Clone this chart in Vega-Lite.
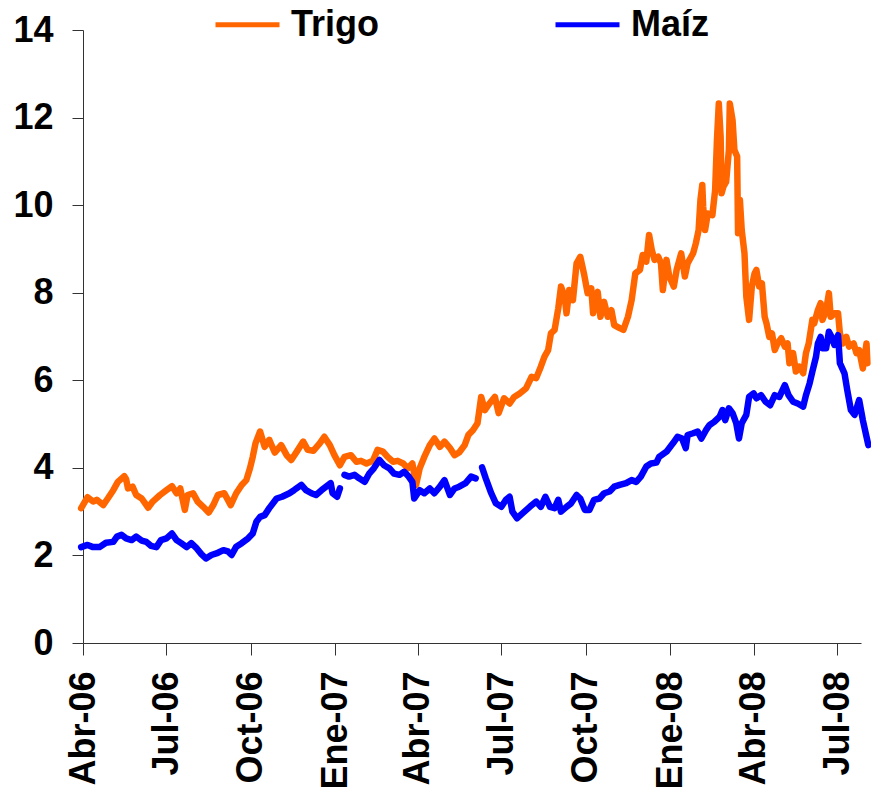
{
"$schema": "https://vega.github.io/schema/vega-lite/v6.json",
"width": 778, "height": 613,
"autosize": "none",
"padding": {"left": 83, "top": 30, "right": 10, "bottom": 153},
"background": "white",
"config": {"view": {"stroke": null}},
"data": {"values": [
{"fecha":"2006-03-30","serie":"Trigo","valor":3.08},
{"fecha":"2006-04-06","serie":"Trigo","valor":3.33},
{"fecha":"2006-04-12","serie":"Trigo","valor":3.23},
{"fecha":"2006-04-16","serie":"Trigo","valor":3.27},
{"fecha":"2006-04-23","serie":"Trigo","valor":3.15},
{"fecha":"2006-04-28","serie":"Trigo","valor":3.30},
{"fecha":"2006-05-04","serie":"Trigo","valor":3.49},
{"fecha":"2006-05-09","serie":"Trigo","valor":3.68},
{"fecha":"2006-05-16","serie":"Trigo","valor":3.81},
{"fecha":"2006-05-18","serie":"Trigo","valor":3.74},
{"fecha":"2006-05-20","serie":"Trigo","valor":3.53},
{"fecha":"2006-05-25","serie":"Trigo","valor":3.57},
{"fecha":"2006-05-29","serie":"Trigo","valor":3.38},
{"fecha":"2006-06-04","serie":"Trigo","valor":3.30},
{"fecha":"2006-06-11","serie":"Trigo","valor":3.09},
{"fecha":"2006-06-16","serie":"Trigo","valor":3.23},
{"fecha":"2006-06-24","serie":"Trigo","valor":3.38},
{"fecha":"2006-07-01","serie":"Trigo","valor":3.49},
{"fecha":"2006-07-07","serie":"Trigo","valor":3.58},
{"fecha":"2006-07-12","serie":"Trigo","valor":3.42},
{"fecha":"2006-07-16","serie":"Trigo","valor":3.53},
{"fecha":"2006-07-21","serie":"Trigo","valor":3.04},
{"fecha":"2006-07-24","serie":"Trigo","valor":3.38},
{"fecha":"2006-07-30","serie":"Trigo","valor":3.42},
{"fecha":"2006-08-04","serie":"Trigo","valor":3.23},
{"fecha":"2006-08-10","serie":"Trigo","valor":3.11},
{"fecha":"2006-08-16","serie":"Trigo","valor":2.98},
{"fecha":"2006-08-21","serie":"Trigo","valor":3.15},
{"fecha":"2006-08-26","serie":"Trigo","valor":3.38},
{"fecha":"2006-09-02","serie":"Trigo","valor":3.42},
{"fecha":"2006-09-09","serie":"Trigo","valor":3.15},
{"fecha":"2006-09-15","serie":"Trigo","valor":3.42},
{"fecha":"2006-09-21","serie":"Trigo","valor":3.61},
{"fecha":"2006-09-26","serie":"Trigo","valor":3.72},
{"fecha":"2006-09-30","serie":"Trigo","valor":3.99},
{"fecha":"2006-10-03","serie":"Trigo","valor":4.25},
{"fecha":"2006-10-06","serie":"Trigo","valor":4.56},
{"fecha":"2006-10-11","serie":"Trigo","valor":4.83},
{"fecha":"2006-10-16","serie":"Trigo","valor":4.48},
{"fecha":"2006-10-21","serie":"Trigo","valor":4.64},
{"fecha":"2006-10-27","serie":"Trigo","valor":4.35},
{"fecha":"2006-11-03","serie":"Trigo","valor":4.52},
{"fecha":"2006-11-09","serie":"Trigo","valor":4.29},
{"fecha":"2006-11-14","serie":"Trigo","valor":4.18},
{"fecha":"2006-11-20","serie":"Trigo","valor":4.37},
{"fecha":"2006-11-27","serie":"Trigo","valor":4.60},
{"fecha":"2006-12-02","serie":"Trigo","valor":4.41},
{"fecha":"2006-12-08","serie":"Trigo","valor":4.39},
{"fecha":"2006-12-15","serie":"Trigo","valor":4.56},
{"fecha":"2006-12-20","serie":"Trigo","valor":4.71},
{"fecha":"2006-12-26","serie":"Trigo","valor":4.52},
{"fecha":"2006-12-31","serie":"Trigo","valor":4.29},
{"fecha":"2007-01-06","serie":"Trigo","valor":4.06},
{"fecha":"2007-01-11","serie":"Trigo","valor":4.25},
{"fecha":"2007-01-18","serie":"Trigo","valor":4.29},
{"fecha":"2007-01-24","serie":"Trigo","valor":4.14},
{"fecha":"2007-01-29","serie":"Trigo","valor":4.16},
{"fecha":"2007-02-04","serie":"Trigo","valor":4.10},
{"fecha":"2007-02-11","serie":"Trigo","valor":4.16},
{"fecha":"2007-02-16","serie":"Trigo","valor":4.41},
{"fecha":"2007-02-22","serie":"Trigo","valor":4.37},
{"fecha":"2007-02-27","serie":"Trigo","valor":4.25},
{"fecha":"2007-03-05","serie":"Trigo","valor":4.14},
{"fecha":"2007-03-10","serie":"Trigo","valor":4.16},
{"fecha":"2007-03-16","serie":"Trigo","valor":4.10},
{"fecha":"2007-03-21","serie":"Trigo","valor":3.99},
{"fecha":"2007-03-26","serie":"Trigo","valor":4.10},
{"fecha":"2007-03-30","serie":"Trigo","valor":3.61},
{"fecha":"2007-04-03","serie":"Trigo","valor":3.99},
{"fecha":"2007-04-08","serie":"Trigo","valor":4.25},
{"fecha":"2007-04-14","serie":"Trigo","valor":4.52},
{"fecha":"2007-04-19","serie":"Trigo","valor":4.67},
{"fecha":"2007-04-25","serie":"Trigo","valor":4.48},
{"fecha":"2007-04-30","serie":"Trigo","valor":4.60},
{"fecha":"2007-05-06","serie":"Trigo","valor":4.45},
{"fecha":"2007-05-11","serie":"Trigo","valor":4.29},
{"fecha":"2007-05-16","serie":"Trigo","valor":4.35},
{"fecha":"2007-05-22","serie":"Trigo","valor":4.52},
{"fecha":"2007-05-26","serie":"Trigo","valor":4.75},
{"fecha":"2007-05-31","serie":"Trigo","valor":4.86},
{"fecha":"2007-06-05","serie":"Trigo","valor":5.02},
{"fecha":"2007-06-09","serie":"Trigo","valor":5.62},
{"fecha":"2007-06-13","serie":"Trigo","valor":5.32},
{"fecha":"2007-06-18","serie":"Trigo","valor":5.47},
{"fecha":"2007-06-24","serie":"Trigo","valor":5.62},
{"fecha":"2007-06-28","serie":"Trigo","valor":5.25},
{"fecha":"2007-07-04","serie":"Trigo","valor":5.59},
{"fecha":"2007-07-10","serie":"Trigo","valor":5.47},
{"fecha":"2007-07-15","serie":"Trigo","valor":5.62},
{"fecha":"2007-07-21","serie":"Trigo","valor":5.70},
{"fecha":"2007-07-28","serie":"Trigo","valor":5.82},
{"fecha":"2007-08-03","serie":"Trigo","valor":6.08},
{"fecha":"2007-08-08","serie":"Trigo","valor":6.05},
{"fecha":"2007-08-13","serie":"Trigo","valor":6.31},
{"fecha":"2007-08-17","serie":"Trigo","valor":6.54},
{"fecha":"2007-08-21","serie":"Trigo","valor":6.69},
{"fecha":"2007-08-24","serie":"Trigo","valor":7.07},
{"fecha":"2007-08-28","serie":"Trigo","valor":7.15},
{"fecha":"2007-09-01","serie":"Trigo","valor":7.64},
{"fecha":"2007-09-04","serie":"Trigo","valor":8.14},
{"fecha":"2007-09-08","serie":"Trigo","valor":7.91},
{"fecha":"2007-09-10","serie":"Trigo","valor":7.53},
{"fecha":"2007-09-13","serie":"Trigo","valor":8.06},
{"fecha":"2007-09-17","serie":"Trigo","valor":7.83},
{"fecha":"2007-09-21","serie":"Trigo","valor":8.67},
{"fecha":"2007-09-25","serie":"Trigo","valor":8.82},
{"fecha":"2007-09-29","serie":"Trigo","valor":8.44},
{"fecha":"2007-10-03","serie":"Trigo","valor":7.99},
{"fecha":"2007-10-07","serie":"Trigo","valor":8.10},
{"fecha":"2007-10-09","serie":"Trigo","valor":7.53},
{"fecha":"2007-10-14","serie":"Trigo","valor":8.02},
{"fecha":"2007-10-17","serie":"Trigo","valor":7.45},
{"fecha":"2007-10-21","serie":"Trigo","valor":7.79},
{"fecha":"2007-10-25","serie":"Trigo","valor":7.45},
{"fecha":"2007-10-29","serie":"Trigo","valor":7.60},
{"fecha":"2007-11-01","serie":"Trigo","valor":7.26},
{"fecha":"2007-11-07","serie":"Trigo","valor":7.19},
{"fecha":"2007-11-11","serie":"Trigo","valor":7.15},
{"fecha":"2007-11-16","serie":"Trigo","valor":7.45},
{"fecha":"2007-11-20","serie":"Trigo","valor":7.83},
{"fecha":"2007-11-24","serie":"Trigo","valor":8.44},
{"fecha":"2007-11-29","serie":"Trigo","valor":8.52},
{"fecha":"2007-12-02","serie":"Trigo","valor":8.86},
{"fecha":"2007-12-06","serie":"Trigo","valor":8.71},
{"fecha":"2007-12-09","serie":"Trigo","valor":9.32},
{"fecha":"2007-12-12","serie":"Trigo","valor":8.97},
{"fecha":"2007-12-15","serie":"Trigo","valor":8.75},
{"fecha":"2007-12-19","serie":"Trigo","valor":8.82},
{"fecha":"2007-12-22","serie":"Trigo","valor":8.67},
{"fecha":"2007-12-24","serie":"Trigo","valor":8.06},
{"fecha":"2007-12-28","serie":"Trigo","valor":8.75},
{"fecha":"2007-12-31","serie":"Trigo","valor":8.37},
{"fecha":"2008-01-05","serie":"Trigo","valor":8.14},
{"fecha":"2008-01-08","serie":"Trigo","valor":8.52},
{"fecha":"2008-01-13","serie":"Trigo","valor":8.90},
{"fecha":"2008-01-17","serie":"Trigo","valor":8.37},
{"fecha":"2008-01-20","serie":"Trigo","valor":8.67},
{"fecha":"2008-01-26","serie":"Trigo","valor":8.90},
{"fecha":"2008-01-29","serie":"Trigo","valor":9.13},
{"fecha":"2008-02-01","serie":"Trigo","valor":9.43},
{"fecha":"2008-02-03","serie":"Trigo","valor":10.12},
{"fecha":"2008-02-05","serie":"Trigo","valor":10.46},
{"fecha":"2008-02-06","serie":"Trigo","valor":9.96},
{"fecha":"2008-02-08","serie":"Trigo","valor":9.43},
{"fecha":"2008-02-11","serie":"Trigo","valor":9.81},
{"fecha":"2008-02-16","serie":"Trigo","valor":9.77},
{"fecha":"2008-02-19","serie":"Trigo","valor":10.34},
{"fecha":"2008-02-21","serie":"Trigo","valor":11.49},
{"fecha":"2008-02-23","serie":"Trigo","valor":12.32},
{"fecha":"2008-02-25","serie":"Trigo","valor":11.56},
{"fecha":"2008-02-26","serie":"Trigo","valor":10.27},
{"fecha":"2008-02-28","serie":"Trigo","valor":10.42},
{"fecha":"2008-03-02","serie":"Trigo","valor":10.53},
{"fecha":"2008-03-05","serie":"Trigo","valor":11.26},
{"fecha":"2008-03-06","serie":"Trigo","valor":12.32},
{"fecha":"2008-03-09","serie":"Trigo","valor":11.94},
{"fecha":"2008-03-11","serie":"Trigo","valor":11.26},
{"fecha":"2008-03-14","serie":"Trigo","valor":11.11},
{"fecha":"2008-03-15","serie":"Trigo","valor":9.36},
{"fecha":"2008-03-17","serie":"Trigo","valor":10.12},
{"fecha":"2008-03-19","serie":"Trigo","valor":9.43},
{"fecha":"2008-03-22","serie":"Trigo","valor":8.90},
{"fecha":"2008-03-24","serie":"Trigo","valor":7.91},
{"fecha":"2008-03-27","serie":"Trigo","valor":7.38},
{"fecha":"2008-03-30","serie":"Trigo","valor":8.14},
{"fecha":"2008-04-02","serie":"Trigo","valor":8.44},
{"fecha":"2008-04-04","serie":"Trigo","valor":8.52},
{"fecha":"2008-04-07","serie":"Trigo","valor":8.14},
{"fecha":"2008-04-10","serie":"Trigo","valor":8.21},
{"fecha":"2008-04-13","serie":"Trigo","valor":7.45},
{"fecha":"2008-04-15","serie":"Trigo","valor":7.30},
{"fecha":"2008-04-18","serie":"Trigo","valor":6.99},
{"fecha":"2008-04-21","serie":"Trigo","valor":7.07},
{"fecha":"2008-04-24","serie":"Trigo","valor":6.69},
{"fecha":"2008-04-27","serie":"Trigo","valor":6.84},
{"fecha":"2008-05-01","serie":"Trigo","valor":6.96},
{"fecha":"2008-05-05","serie":"Trigo","valor":6.77},
{"fecha":"2008-05-08","serie":"Trigo","valor":6.84},
{"fecha":"2008-05-10","serie":"Trigo","valor":6.39},
{"fecha":"2008-05-14","serie":"Trigo","valor":6.62},
{"fecha":"2008-05-17","serie":"Trigo","valor":6.20},
{"fecha":"2008-05-21","serie":"Trigo","valor":6.31},
{"fecha":"2008-05-25","serie":"Trigo","valor":6.16},
{"fecha":"2008-05-28","serie":"Trigo","valor":6.62},
{"fecha":"2008-05-31","serie":"Trigo","valor":6.84},
{"fecha":"2008-06-04","serie":"Trigo","valor":7.38},
{"fecha":"2008-06-06","serie":"Trigo","valor":7.30},
{"fecha":"2008-06-10","serie":"Trigo","valor":7.60},
{"fecha":"2008-06-13","serie":"Trigo","valor":7.76},
{"fecha":"2008-06-15","serie":"Trigo","valor":7.38},
{"fecha":"2008-06-19","serie":"Trigo","valor":7.60},
{"fecha":"2008-06-22","serie":"Trigo","valor":7.99},
{"fecha":"2008-06-24","serie":"Trigo","valor":7.45},
{"fecha":"2008-06-28","serie":"Trigo","valor":7.53},
{"fecha":"2008-07-02","serie":"Trigo","valor":7.53},
{"fecha":"2008-07-04","serie":"Trigo","valor":7.07},
{"fecha":"2008-07-07","serie":"Trigo","valor":6.84},
{"fecha":"2008-07-11","serie":"Trigo","valor":6.99},
{"fecha":"2008-07-14","serie":"Trigo","valor":6.77},
{"fecha":"2008-07-19","serie":"Trigo","valor":6.84},
{"fecha":"2008-07-22","serie":"Trigo","valor":6.62},
{"fecha":"2008-07-25","serie":"Trigo","valor":6.69},
{"fecha":"2008-07-29","serie":"Trigo","valor":6.27},
{"fecha":"2008-08-02","serie":"Trigo","valor":6.84},
{"fecha":"2008-08-03","serie":"Trigo","valor":6.39},
{"fecha":"2006-03-30","serie":"Maíz","valor":2.19},
{"fecha":"2006-04-06","serie":"Maíz","valor":2.24},
{"fecha":"2006-04-12","serie":"Maíz","valor":2.19},
{"fecha":"2006-04-19","serie":"Maíz","valor":2.19},
{"fecha":"2006-04-26","serie":"Maíz","valor":2.29},
{"fecha":"2006-05-04","serie":"Maíz","valor":2.31},
{"fecha":"2006-05-08","serie":"Maíz","valor":2.43},
{"fecha":"2006-05-13","serie":"Maíz","valor":2.47},
{"fecha":"2006-05-18","serie":"Maíz","valor":2.39},
{"fecha":"2006-05-24","serie":"Maíz","valor":2.35},
{"fecha":"2006-05-29","serie":"Maíz","valor":2.43},
{"fecha":"2006-06-04","serie":"Maíz","valor":2.34},
{"fecha":"2006-06-09","serie":"Maíz","valor":2.31},
{"fecha":"2006-06-14","serie":"Maíz","valor":2.22},
{"fecha":"2006-06-20","serie":"Maíz","valor":2.19},
{"fecha":"2006-06-25","serie":"Maíz","valor":2.35},
{"fecha":"2006-07-01","serie":"Maíz","valor":2.39},
{"fecha":"2006-07-07","serie":"Maíz","valor":2.50},
{"fecha":"2006-07-12","serie":"Maíz","valor":2.35},
{"fecha":"2006-07-17","serie":"Maíz","valor":2.28},
{"fecha":"2006-07-23","serie":"Maíz","valor":2.19},
{"fecha":"2006-07-28","serie":"Maíz","valor":2.28},
{"fecha":"2006-08-03","serie":"Maíz","valor":2.16},
{"fecha":"2006-08-08","serie":"Maíz","valor":2.03},
{"fecha":"2006-08-13","serie":"Maíz","valor":1.93},
{"fecha":"2006-08-19","serie":"Maíz","valor":2.01},
{"fecha":"2006-08-26","serie":"Maíz","valor":2.06},
{"fecha":"2006-09-01","serie":"Maíz","valor":2.12},
{"fecha":"2006-09-06","serie":"Maíz","valor":2.09},
{"fecha":"2006-09-10","serie":"Maíz","valor":2.01},
{"fecha":"2006-09-15","serie":"Maíz","valor":2.20},
{"fecha":"2006-09-21","serie":"Maíz","valor":2.28},
{"fecha":"2006-09-28","serie":"Maíz","valor":2.39},
{"fecha":"2006-10-03","serie":"Maíz","valor":2.50},
{"fecha":"2006-10-07","serie":"Maíz","valor":2.77},
{"fecha":"2006-10-11","serie":"Maíz","valor":2.88},
{"fecha":"2006-10-16","serie":"Maíz","valor":2.92},
{"fecha":"2006-10-21","serie":"Maíz","valor":3.08},
{"fecha":"2006-10-29","serie":"Maíz","valor":3.30},
{"fecha":"2006-11-04","serie":"Maíz","valor":3.34},
{"fecha":"2006-11-12","serie":"Maíz","valor":3.42},
{"fecha":"2006-11-17","serie":"Maíz","valor":3.49},
{"fecha":"2006-11-25","serie":"Maíz","valor":3.61},
{"fecha":"2006-11-30","serie":"Maíz","valor":3.49},
{"fecha":"2006-12-06","serie":"Maíz","valor":3.42},
{"fecha":"2006-12-11","serie":"Maíz","valor":3.38},
{"fecha":"2006-12-17","serie":"Maíz","valor":3.49},
{"fecha":"2006-12-22","serie":"Maíz","valor":3.57},
{"fecha":"2006-12-27","serie":"Maíz","valor":3.65},
{"fecha":"2006-12-29","serie":"Maíz","valor":3.42},
{"fecha":"2007-01-03","serie":"Maíz","valor":3.34},
{"fecha":"2007-01-06","serie":"Maíz","valor":3.53},
{"fecha":"2007-01-08","serie":"Maíz","valor":null},
{"fecha":"2007-01-11","serie":"Maíz","valor":3.84},
{"fecha":"2007-01-16","serie":"Maíz","valor":3.80},
{"fecha":"2007-01-22","serie":"Maíz","valor":3.84},
{"fecha":"2007-01-27","serie":"Maíz","valor":3.76},
{"fecha":"2007-02-02","serie":"Maíz","valor":3.68},
{"fecha":"2007-02-07","serie":"Maíz","valor":3.87},
{"fecha":"2007-02-12","serie":"Maíz","valor":3.99},
{"fecha":"2007-02-18","serie":"Maíz","valor":4.18},
{"fecha":"2007-02-23","serie":"Maíz","valor":4.06},
{"fecha":"2007-03-01","serie":"Maíz","valor":3.99},
{"fecha":"2007-03-06","serie":"Maíz","valor":3.87},
{"fecha":"2007-03-12","serie":"Maíz","valor":3.84},
{"fecha":"2007-03-17","serie":"Maíz","valor":3.91},
{"fecha":"2007-03-22","serie":"Maíz","valor":3.80},
{"fecha":"2007-03-26","serie":"Maíz","valor":3.68},
{"fecha":"2007-03-28","serie":"Maíz","valor":3.30},
{"fecha":"2007-04-03","serie":"Maíz","valor":3.49},
{"fecha":"2007-04-08","serie":"Maíz","valor":3.42},
{"fecha":"2007-04-14","serie":"Maíz","valor":3.53},
{"fecha":"2007-04-19","serie":"Maíz","valor":3.42},
{"fecha":"2007-04-25","serie":"Maíz","valor":3.57},
{"fecha":"2007-04-30","serie":"Maíz","valor":3.72},
{"fecha":"2007-05-06","serie":"Maíz","valor":3.38},
{"fecha":"2007-05-11","serie":"Maíz","valor":3.53},
{"fecha":"2007-05-16","serie":"Maíz","valor":3.57},
{"fecha":"2007-05-23","serie":"Maíz","valor":3.65},
{"fecha":"2007-05-29","serie":"Maíz","valor":3.80},
{"fecha":"2007-06-03","serie":"Maíz","valor":3.76},
{"fecha":"2007-06-05","serie":"Maíz","valor":null},
{"fecha":"2007-06-10","serie":"Maíz","valor":4.01},
{"fecha":"2007-06-14","serie":"Maíz","valor":3.76},
{"fecha":"2007-06-20","serie":"Maíz","valor":3.42},
{"fecha":"2007-06-25","serie":"Maíz","valor":3.19},
{"fecha":"2007-07-01","serie":"Maíz","valor":3.11},
{"fecha":"2007-07-06","serie":"Maíz","valor":3.27},
{"fecha":"2007-07-10","serie":"Maíz","valor":3.34},
{"fecha":"2007-07-13","serie":"Maíz","valor":3.00},
{"fecha":"2007-07-18","serie":"Maíz","valor":2.85},
{"fecha":"2007-07-24","serie":"Maíz","valor":2.96},
{"fecha":"2007-08-01","serie":"Maíz","valor":3.11},
{"fecha":"2007-08-08","serie":"Maíz","valor":3.23},
{"fecha":"2007-08-13","serie":"Maíz","valor":3.11},
{"fecha":"2007-08-18","serie":"Maíz","valor":3.34},
{"fecha":"2007-08-23","serie":"Maíz","valor":3.11},
{"fecha":"2007-08-28","serie":"Maíz","valor":3.08},
{"fecha":"2007-09-01","serie":"Maíz","valor":3.27},
{"fecha":"2007-09-04","serie":"Maíz","valor":3.00},
{"fecha":"2007-09-10","serie":"Maíz","valor":3.11},
{"fecha":"2007-09-15","serie":"Maíz","valor":3.19},
{"fecha":"2007-09-21","serie":"Maíz","valor":3.38},
{"fecha":"2007-09-25","serie":"Maíz","valor":3.30},
{"fecha":"2007-09-30","serie":"Maíz","valor":3.04},
{"fecha":"2007-10-05","serie":"Maíz","valor":3.04},
{"fecha":"2007-10-10","serie":"Maíz","valor":3.27},
{"fecha":"2007-10-16","serie":"Maíz","valor":3.30},
{"fecha":"2007-10-21","serie":"Maíz","valor":3.42},
{"fecha":"2007-10-27","serie":"Maíz","valor":3.46},
{"fecha":"2007-11-01","serie":"Maíz","valor":3.57},
{"fecha":"2007-11-07","serie":"Maíz","valor":3.61},
{"fecha":"2007-11-14","serie":"Maíz","valor":3.65},
{"fecha":"2007-11-20","serie":"Maíz","valor":3.72},
{"fecha":"2007-11-25","serie":"Maíz","valor":3.68},
{"fecha":"2007-11-30","serie":"Maíz","valor":3.80},
{"fecha":"2007-12-06","serie":"Maíz","valor":4.03},
{"fecha":"2007-12-11","serie":"Maíz","valor":4.10},
{"fecha":"2007-12-17","serie":"Maíz","valor":4.12},
{"fecha":"2007-12-20","serie":"Maíz","valor":4.25},
{"fecha":"2007-12-28","serie":"Maíz","valor":4.37},
{"fecha":"2008-01-04","serie":"Maíz","valor":4.56},
{"fecha":"2008-01-09","serie":"Maíz","valor":4.71},
{"fecha":"2008-01-14","serie":"Maíz","valor":4.67},
{"fecha":"2008-01-18","serie":"Maíz","valor":4.45},
{"fecha":"2008-01-20","serie":"Maíz","valor":4.75},
{"fecha":"2008-01-26","serie":"Maíz","valor":4.79},
{"fecha":"2008-01-31","serie":"Maíz","valor":4.83},
{"fecha":"2008-02-04","serie":"Maíz","valor":4.67},
{"fecha":"2008-02-09","serie":"Maíz","valor":4.86},
{"fecha":"2008-02-13","serie":"Maíz","valor":4.98},
{"fecha":"2008-02-18","serie":"Maíz","valor":5.05},
{"fecha":"2008-02-24","serie":"Maíz","valor":5.17},
{"fecha":"2008-02-27","serie":"Maíz","valor":5.32},
{"fecha":"2008-03-01","serie":"Maíz","valor":5.09},
{"fecha":"2008-03-05","serie":"Maíz","valor":5.36},
{"fecha":"2008-03-09","serie":"Maíz","valor":5.25},
{"fecha":"2008-03-13","serie":"Maíz","valor":5.02},
{"fecha":"2008-03-16","serie":"Maíz","valor":4.67},
{"fecha":"2008-03-19","serie":"Maíz","valor":5.02},
{"fecha":"2008-03-24","serie":"Maíz","valor":5.21},
{"fecha":"2008-03-27","serie":"Maíz","valor":5.62},
{"fecha":"2008-04-01","serie":"Maíz","valor":5.70},
{"fecha":"2008-04-04","serie":"Maíz","valor":5.59},
{"fecha":"2008-04-09","serie":"Maíz","valor":5.66},
{"fecha":"2008-04-14","serie":"Maíz","valor":5.51},
{"fecha":"2008-04-19","serie":"Maíz","valor":5.43},
{"fecha":"2008-04-24","serie":"Maíz","valor":5.66},
{"fecha":"2008-04-29","serie":"Maíz","valor":5.62},
{"fecha":"2008-05-05","serie":"Maíz","valor":5.89},
{"fecha":"2008-05-09","serie":"Maíz","valor":5.66},
{"fecha":"2008-05-14","serie":"Maíz","valor":5.51},
{"fecha":"2008-05-19","serie":"Maíz","valor":5.47},
{"fecha":"2008-05-25","serie":"Maíz","valor":5.40},
{"fecha":"2008-05-28","serie":"Maíz","valor":5.66},
{"fecha":"2008-06-01","serie":"Maíz","valor":5.93},
{"fecha":"2008-06-04","serie":"Maíz","valor":6.20},
{"fecha":"2008-06-08","serie":"Maíz","valor":6.54},
{"fecha":"2008-06-10","serie":"Maíz","valor":6.84},
{"fecha":"2008-06-13","serie":"Maíz","valor":6.99},
{"fecha":"2008-06-15","serie":"Maíz","valor":6.73},
{"fecha":"2008-06-19","serie":"Maíz","valor":6.73},
{"fecha":"2008-06-22","serie":"Maíz","valor":7.11},
{"fecha":"2008-06-25","serie":"Maíz","valor":6.99},
{"fecha":"2008-06-28","serie":"Maíz","valor":6.81},
{"fecha":"2008-07-02","serie":"Maíz","valor":7.03},
{"fecha":"2008-07-04","serie":"Maíz","valor":6.39},
{"fecha":"2008-07-09","serie":"Maíz","valor":6.16},
{"fecha":"2008-07-12","serie":"Maíz","valor":5.78},
{"fecha":"2008-07-16","serie":"Maíz","valor":5.32},
{"fecha":"2008-07-20","serie":"Maíz","valor":5.21},
{"fecha":"2008-07-25","serie":"Maíz","valor":5.55},
{"fecha":"2008-07-29","serie":"Maíz","valor":5.09},
{"fecha":"2008-08-02","serie":"Maíz","valor":4.71},
{"fecha":"2008-08-04","serie":"Maíz","valor":4.52}
]},
"mark": {"type": "line", "strokeWidth": 6.5, "strokeCap": "round", "strokeJoin": "round"},
"encoding": {
  "x": {"field": "fecha", "type": "temporal",
    "scale": {"type": "utc", "domain": [{"year":2006,"month":4,"date":1,"utc":true},{"year":2008,"month":7,"date":27,"utc":true}]},
    "axis": {"title": null, "grid": false,
      "values": [{"year":2006,"month":4,"date":1,"utc":true},{"year":2006,"month":7,"date":1,"utc":true},{"year":2006,"month":10,"date":1,"utc":true},{"year":2007,"month":1,"date":1,"utc":true},{"year":2007,"month":4,"date":1,"utc":true},{"year":2007,"month":7,"date":1,"utc":true},{"year":2007,"month":10,"date":1,"utc":true},{"year":2008,"month":1,"date":1,"utc":true},{"year":2008,"month":4,"date":1,"utc":true},{"year":2008,"month":7,"date":1,"utc":true}],
      "labelExpr": "['Ene','Feb','Mar','Abr','May','Jun','Jul','Ago','Sep','Oct','Nov','Dic'][utcmonth(datum.value)] + '-' + utcFormat(datum.value, '%y')",
      "labelAngle": -90, "labelAlign": "right", "labelBaseline": "middle",
      "labelFont": "Liberation Sans", "labelFontWeight": "bold", "labelFontSize": 36, "labelColor": "black",
      "labelPadding": 16, "tickSize": 12, "tickColor": "#333", "domainColor": "#333",
      "labelOverlap": false, "labelFlush": false, "labelBound": false}},
  "y": {"field": "valor", "type": "quantitative",
    "scale": {"domain": [0, 14], "nice": false},
    "axis": {"title": null, "grid": false, "values": [0,2,4,6,8,10,12,14],
      "labelFont": "Liberation Sans", "labelFontWeight": "bold", "labelFontSize": 36, "labelColor": "black",
      "labelPadding": 19, "tickSize": 11, "tickColor": "#333", "domainColor": "#333",
      "labelOverlap": false, "labelFlush": false, "labelBound": false}},
  "color": {"field": "serie", "type": "nominal",
    "scale": {"domain": ["Trigo", "Maíz"], "range": ["#FF6600", "#0000FF"]},
    "legend": {"orient": "none", "legendX": 130, "legendY": -40, "direction": "horizontal", "title": null,
      "symbolType": "stroke", "symbolSize": 4096, "symbolStrokeWidth": 5,
      "labelFont": "Liberation Sans", "labelFontWeight": "bold", "labelFontSize": 36, "labelColor": "black",
      "labelOffset": 9, "columnPadding": 166, "padding": 0, "labelLimit": 300}}
}
}
